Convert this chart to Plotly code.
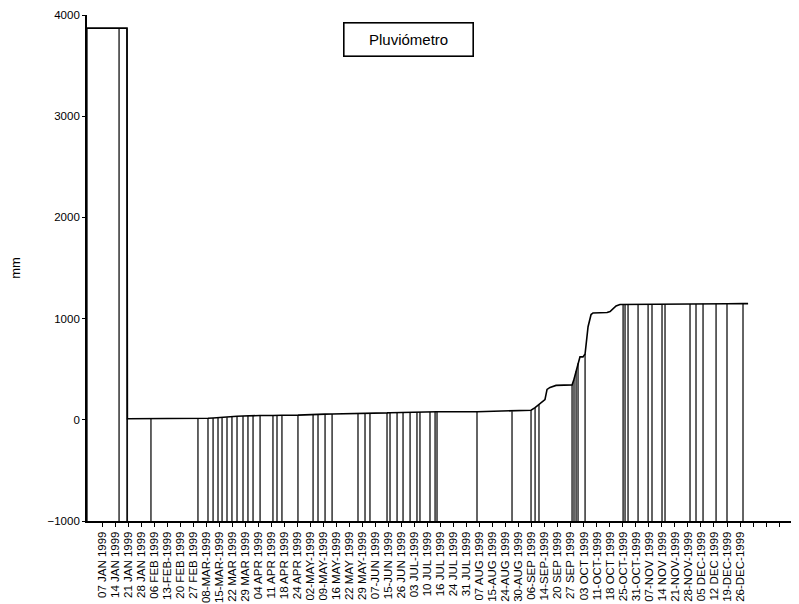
import plotly.graph_objects as go

# Category (week) labels along the x axis
week_labels = [
    "07 JAN 1999", "14 JAN 1999", "21 JAN 1999", "28 JAN 1999", "06 FEB 1999",
    "13-FEB-1999", "20 FEB 1999", "27 FEB 1999", "08-MAR-1999", "15-MAR-1999",
    "22 MAR 1999", "29 MAR 1999", "04 APR 1999", "11 APR 1999", "18 APR 1999",
    "24 APR 1999", "02-MAY-1999", "09-MAY-1999", "16 MAY-1999", "22 MAY 1999",
    "29 MAY-1999", "07-JUN 1999", "15-JUN 1999", "26 JUN 1999", "03 JUL-1999",
    "10 JUL 1999", "16 JUL 1999", "24 JUL 1999", "31 JUL 1999", "07 AUG 1999",
    "15-AUG 1999", "24-AUG 1999", "30-AUG 1999", "06-SEP 1999", "14-SEP-1999",
    "20 SEP 1999", "27 SEP 1999", "03 OCT 1999", "11-OCT-1999", "18 OCT 1999",
    "25-OCT-1999", "31-OCT-1999", "07-NOV 1999", "14 NOV 1999", "21-NOV-1999",
    "28-NOV-1999", "05 DEC-1999", "12 DEC 1999", "19-DEC-1999", "26-DEC-1999",
]
n_slots = 54  # axis keeps going past the last label

# Cumulative rainfall readings: position along the week axis, value (mm),
# and whether a drop line is drawn for the reading
pos = [-1.15, 1.31, 1.92, 1.95, 3.76, 7.37, 8.14, 8.53, 8.91, 9.22, 9.60, 9.98,
       10.37, 10.83, 11.21, 11.60, 12.14, 13.13, 13.44, 13.82, 15.05, 16.21,
       16.59, 17.13, 17.67, 19.66, 20.20, 20.58, 21.89, 22.12, 22.66, 23.12,
       23.66, 24.19, 24.42, 25.19, 25.58, 25.73, 28.80, 31.49, 32.95, 33.26,
       33.56, 33.79, 34.02, 34.18, 34.41, 34.87, 35.94, 36.10, 36.25, 36.41,
       36.56, 36.71, 36.94, 37.10, 37.33, 37.56, 37.71, 38.79, 39.02, 39.25,
       39.48, 39.78, 40.02, 40.17, 40.40, 41.17, 41.94, 42.24, 43.01, 43.24,
       45.16, 45.62, 46.16, 47.16, 48.00, 49.23, 49.62]
cum_mm = [3870, 3870, 3870, 10, 10, 12, 15, 18, 20, 22, 25, 30,
          35, 38, 40, 40, 42, 42, 44, 45, 46, 48,
          52, 56, 58, 60, 64, 66, 68, 70, 72, 73,
          74, 75, 76, 78, 78, 79, 80, 85, 95, 120,
          150, 180, 200, 300, 320, 340, 345, 345, 400, 480,
          560, 622, 622, 650, 920, 1040, 1056, 1060, 1070, 1100,
          1125, 1140, 1140, 1140, 1140, 1142, 1143, 1143, 1144, 1144,
          1145, 1145, 1146, 1146, 1147, 1148, 1148]
drop = [1, 1, 1, 1, 1, 1, 1, 1, 1, 1, 1, 1,
        1, 1, 1, 1, 1, 1, 1, 1, 1, 1,
        1, 1, 1, 1, 1, 1, 1, 1, 1, 1,
        1, 1, 1, 1, 1, 1, 1, 1, 1, 1,
        1, 0, 0, 0, 0, 0, 0, 1, 1, 1,
        1, 0, 0, 1, 0, 0, 0, 0, 0, 0,
        0, 0, 1, 1, 1, 1, 1, 1, 1, 1,
        1, 1, 1, 1, 1, 1, 0]

y_min, y_max = -1000, 4000
y_ticks = [-1000, 0, 1000, 2000, 3000, 4000]

FONT = "Arial, Liberation Sans, sans-serif"

# drop lines from each reading down to the axis floor
dx, dy = [], []
for p, v, d in zip(pos, cum_mm, drop):
    if d:
        dx += [p, p, None]
        dy += [y_min, v, None]

fig = go.Figure()
fig.add_trace(go.Scatter(x=dx, y=dy, mode="lines",
                         line=dict(color="#111111", width=1.3),
                         hoverinfo="skip", showlegend=False))
fig.add_trace(go.Scatter(x=pos, y=cum_mm, mode="lines", name="Pluviómetro",
                         line=dict(color="#000000", width=1.6),
                         showlegend=False))

tickvals = list(range(n_slots))
ticktext = [week_labels[i] if i < len(week_labels) else "" for i in tickvals]

fig.update_layout(
    width=799, height=604,
    margin=dict(l=79, r=8, t=7, b=91, autoexpand=False),
    paper_bgcolor="white", plot_bgcolor="white",
    font=dict(family=FONT, color="#000000"),
    xaxis=dict(range=[-1.152, 53.53], tickmode="array", tickvals=tickvals,
               ticktext=ticktext, tickangle=-90, tickfont=dict(size=11.5),
               automargin=False,
               showgrid=False, zeroline=False, showline=True,
               linecolor="#000000", linewidth=1.8, ticks="outside",
               ticklen=4, tickcolor="#000000", tickwidth=1.3),
    yaxis=dict(range=[y_min, y_max], tickmode="array", tickvals=y_ticks,
               tickfont=dict(size=11.5), showgrid=False, zeroline=False,
               automargin=False,
               showline=True, linecolor="#000000", linewidth=1.8,
               ticks="outside", ticklen=3, tickcolor="#000000", tickwidth=1.3,
               title=dict(text="mm", font=dict(size=13), standoff=24)),
    annotations=[dict(text="Pluviómetro", xref="paper", yref="paper",
                      x=0.451, y=0.951, xanchor="center", yanchor="middle",
                      showarrow=False, font=dict(size=15, family=FONT),
                      bordercolor="#000000", borderwidth=1.6, borderpad=2,
                      width=124, height=28, bgcolor="white")],
)

fig.write_html("out.html")
